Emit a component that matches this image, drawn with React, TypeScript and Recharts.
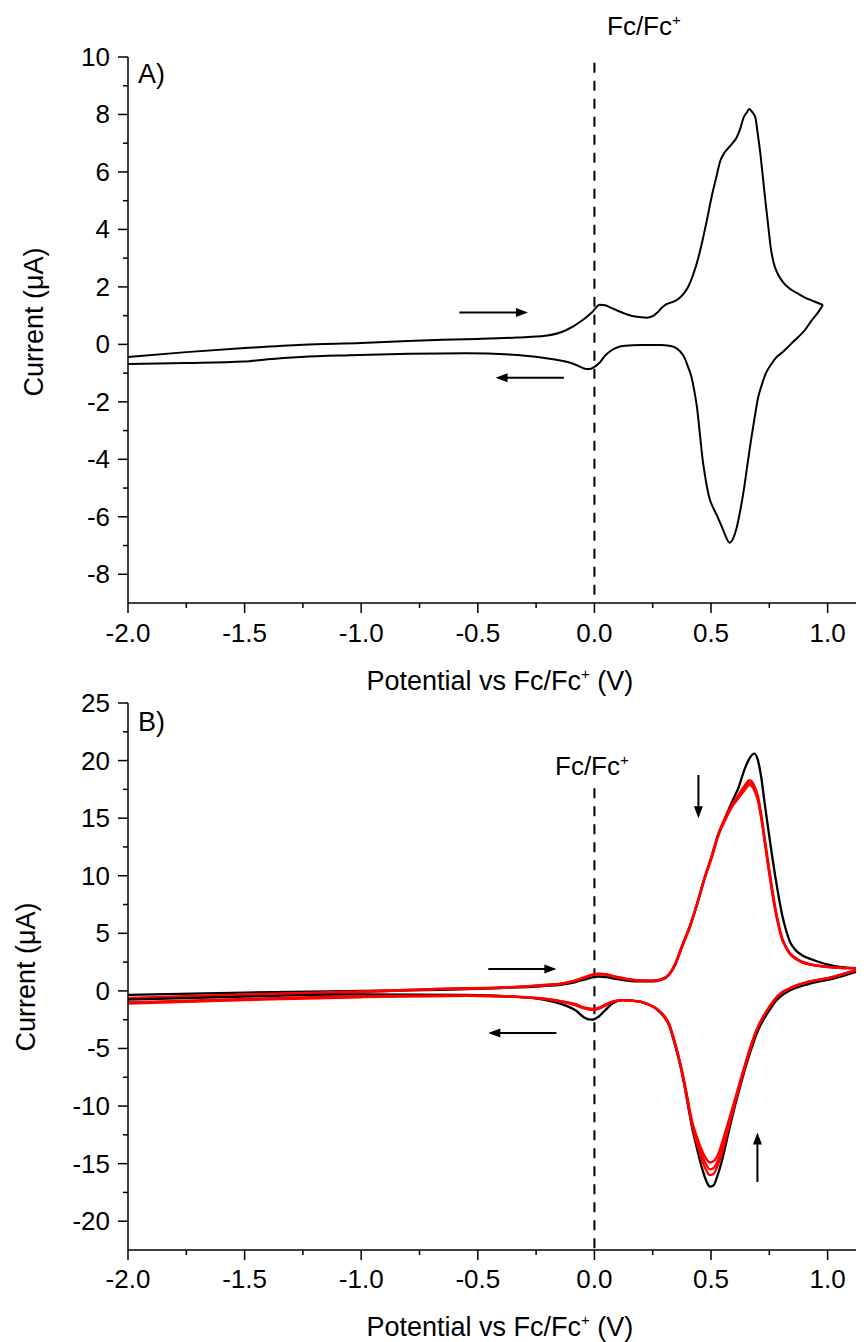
import React from 'react';
import { LineChart, Line, XAxis, YAxis, ReferenceLine } from 'recharts';

const FONT = '"Liberation Sans", Arial, Helvetica, sans-serif';

// ---- Panel A: single CV scan ----
const aFwdV = [-2.0, -1.75, -1.5, -1.25, -1.0, -0.8, -0.55, -0.33, -0.21, -0.12, -0.05, -0.01, 0.023, 0.046, 0.07, 0.1, 0.13, 0.162, 0.195, 0.224, 0.25, 0.27, 0.29, 0.309, 0.33, 0.347, 0.366, 0.386, 0.405, 0.424, 0.445, 0.463, 0.483, 0.502, 0.522, 0.54, 0.556, 0.571, 0.59, 0.61, 0.625, 0.64, 0.652, 0.664, 0.677, 0.69, 0.7, 0.71, 0.722, 0.733, 0.745, 0.756, 0.77, 0.787, 0.81, 0.841, 0.87, 0.903, 0.94, 0.98];
const aFwdI = [-0.44, -0.27, -0.13, -0.01, 0.05, 0.12, 0.18, 0.24, 0.3, 0.5, 0.85, 1.12, 1.38, 1.36, 1.28, 1.17, 1.07, 0.99, 0.95, 0.93, 0.98, 1.11, 1.28, 1.4, 1.46, 1.51, 1.62, 1.8, 2.05, 2.44, 3.0, 3.6, 4.35, 5.11, 5.8, 6.39, 6.65, 6.8, 6.98, 7.2, 7.5, 7.9, 8.05, 8.19, 8.08, 7.9, 7.35, 6.74, 5.85, 5.0, 4.15, 3.37, 2.8, 2.44, 2.15, 1.92, 1.78, 1.63, 1.5, 1.37];
const aRevV = [0.98, 0.96, 0.93, 0.903, 0.872, 0.841, 0.81, 0.779, 0.756, 0.733, 0.718, 0.702, 0.687, 0.671, 0.655, 0.64, 0.625, 0.61, 0.595, 0.579, 0.564, 0.548, 0.528, 0.509, 0.497, 0.486, 0.475, 0.463, 0.452, 0.44, 0.428, 0.417, 0.4, 0.386, 0.365, 0.347, 0.32, 0.285, 0.2, 0.131, 0.1, 0.069, 0.045, 0.023, 0.0, -0.023, -0.045, -0.069, -0.1, -0.177, -0.33, -0.55, -0.795, -1.05, -1.258, -1.4, -1.5, -1.75, -2.0];
const aRevI = [1.37, 1.12, 0.82, 0.5, 0.24, 0.0, -0.25, -0.46, -0.72, -1.04, -1.4, -1.85, -2.55, -3.36, -4.25, -5.1, -5.8, -6.38, -6.75, -6.9, -6.7, -6.38, -6.0, -5.68, -5.45, -5.1, -4.6, -3.94, -3.1, -2.2, -1.6, -1.16, -0.75, -0.46, -0.22, -0.11, -0.05, -0.02, -0.02, -0.05, -0.1, -0.23, -0.4, -0.63, -0.78, -0.86, -0.84, -0.75, -0.65, -0.52, -0.37, -0.31, -0.33, -0.38, -0.44, -0.52, -0.6, -0.65, -0.68];

// ---- Panel B: repeated scans (black = first, red = following) ----
const bFwdV = [-2.0, -1.5, -1.0, -0.65, -0.4, -0.23, -0.14, -0.086, -0.04, -0.01, 0.02, 0.05, 0.09, 0.14, 0.2, 0.25, 0.285, 0.32, 0.347, 0.373, 0.41, 0.446, 0.47, 0.502, 0.532, 0.558, 0.594, 0.617, 0.643, 0.665, 0.686, 0.7, 0.715, 0.73, 0.745, 0.76, 0.775, 0.79, 0.805, 0.82, 0.84, 0.86, 0.89, 0.93, 0.98, 1.03, 1.09, 1.156];
const bBlackFwd = [-0.35, -0.15, 0.0, 0.1, 0.25, 0.4, 0.55, 0.75, 1.0, 1.18, 1.25, 1.2, 1.05, 0.9, 0.82, 0.82, 0.95, 1.4, 2.3, 3.7, 5.6, 7.9, 9.6, 11.6, 13.6, 14.9, 16.6, 17.6, 19.2, 20.2, 20.6, 20.1, 18.6, 16.3, 14.1, 12.0, 10.0, 8.2, 6.6, 5.4, 4.2, 3.6, 3.1, 2.75, 2.4, 2.15, 2.0, 1.9];
const bRed1Fwd = [-0.6, -0.3, -0.05, 0.2, 0.3, 0.5, 0.65, 0.9, 1.2, 1.42, 1.5, 1.45, 1.25, 1.05, 0.92, 0.9, 1.0, 1.45, 2.4, 3.8, 5.7, 8.0, 9.7, 11.7, 13.7, 14.9, 16.3, 17.0, 17.8, 18.3, 17.8, 17.0, 15.4, 13.3, 11.2, 9.2, 7.3, 5.8, 4.6, 3.9, 3.25, 2.9, 2.55, 2.3, 2.15, 2.05, 2.0, 2.0];
const bRed2Fwd = [-0.65, -0.35, -0.08, 0.18, 0.28, 0.48, 0.63, 0.88, 1.18, 1.4, 1.48, 1.43, 1.23, 1.03, 0.9, 0.88, 0.98, 1.42, 2.35, 3.75, 5.65, 7.95, 9.65, 11.6, 13.6, 14.8, 16.2, 16.9, 17.6, 18.1, 17.6, 16.8, 15.2, 13.1, 11.0, 9.0, 7.2, 5.7, 4.5, 3.85, 3.2, 2.85, 2.5, 2.28, 2.12, 2.03, 1.98, 1.98];
const bRed3Fwd = [-0.7, -0.4, -0.1, 0.15, 0.26, 0.46, 0.6, 0.85, 1.15, 1.37, 1.45, 1.4, 1.2, 1.0, 0.88, 0.86, 0.96, 1.4, 2.3, 3.7, 5.6, 7.9, 9.6, 11.5, 13.5, 14.7, 16.1, 16.7, 17.4, 17.9, 17.4, 16.6, 15.0, 12.9, 10.8, 8.8, 7.0, 5.6, 4.45, 3.8, 3.15, 2.8, 2.48, 2.25, 2.1, 2.02, 1.97, 1.97];

const bRevV = [1.156, 1.09, 1.02, 0.96, 0.91, 0.87, 0.83, 0.8, 0.775, 0.75, 0.725, 0.7, 0.675, 0.65, 0.625, 0.6, 0.575, 0.55, 0.53, 0.51, 0.495, 0.48, 0.46, 0.44, 0.42, 0.4, 0.38, 0.36, 0.34, 0.32, 0.3, 0.27, 0.24, 0.2, 0.16, 0.12, 0.08, 0.05, 0.02, -0.01, -0.04, -0.08, -0.14, -0.22, -0.35, -0.55, -1.0, -1.5, -2.0];
const bBlackRev = [1.9, 1.45, 1.05, 0.8, 0.55, 0.3, -0.05, -0.45, -0.95, -1.7, -2.5, -3.5, -4.9, -6.5, -8.3, -10.2, -12.3, -14.5, -15.9, -16.9, -17.0, -16.5, -15.3, -13.7, -12.0, -9.8, -7.6, -5.8, -4.3, -3.0, -2.3, -1.65, -1.25, -0.95, -0.85, -0.8, -1.05, -1.6, -2.2, -2.5, -2.35, -1.7, -1.15, -0.75, -0.5, -0.35, -0.3, -0.5, -0.75];
const bRed1Rev = [1.95, 1.6, 1.2, 0.95, 0.75, 0.5, 0.15, -0.2, -0.7, -1.4, -2.2, -3.2, -4.6, -6.3, -8.1, -10.0, -11.9, -13.9, -15.1, -15.9, -16.0, -15.6, -14.6, -13.3, -11.8, -9.6, -7.5, -5.7, -4.2, -2.9, -2.2, -1.6, -1.25, -0.95, -0.85, -0.8, -0.95, -1.25, -1.55, -1.65, -1.55, -1.25, -0.95, -0.7, -0.5, -0.4, -0.45, -0.7, -1.0];
const bRed2Rev = [1.97, 1.6, 1.2, 0.95, 0.75, 0.5, 0.15, -0.2, -0.7, -1.4, -2.2, -3.2, -4.55, -6.2, -8.0, -9.8, -11.6, -13.5, -14.7, -15.4, -15.5, -15.1, -14.2, -13.0, -11.6, -9.5, -7.4, -5.65, -4.15, -2.9, -2.2, -1.6, -1.25, -0.95, -0.85, -0.8, -0.93, -1.2, -1.5, -1.6, -1.5, -1.2, -0.92, -0.68, -0.5, -0.42, -0.5, -0.75, -1.05];
const bRed3Rev = [1.97, 1.6, 1.2, 0.95, 0.75, 0.5, 0.15, -0.2, -0.7, -1.4, -2.2, -3.15, -4.5, -6.1, -7.8, -9.6, -11.3, -13.0, -14.2, -14.8, -14.9, -14.6, -13.8, -12.7, -11.4, -9.4, -7.3, -5.6, -4.1, -2.85, -2.2, -1.6, -1.25, -0.95, -0.85, -0.8, -0.9, -1.15, -1.45, -1.55, -1.45, -1.15, -0.9, -0.66, -0.5, -0.44, -0.55, -0.8, -1.1];

// ticks
const xTicks = [-2, -1.75, -1.5, -1.25, -1, -0.75, -0.5, -0.25, 0, 0.25, 0.5, 0.75, 1];
const yTicksA = [10, 9, 8, 7, 6, 5, 4, 3, 2, 1, 0, -1, -2, -3, -4, -5, -6, -7, -8];
const yTicksB = [25, 22.5, 20, 17.5, 15, 12.5, 10, 7.5, 5, 2.5, 0, -2.5, -5, -7.5, -10, -12.5, -15, -17.5, -20];

const toPts = (vs: number[], is: number[]) =>
  vs.map((v, k) => ({ v, i: is[k] })).sort((a, b) => a.v - b.v);

const X_DOMAIN: [number, number] = [-2, 1.156];
const PLOT_LEFT = 120;
const A_AXIS_Y = 595;
const B_AXIS_Y = 592;
const TICK_FS = 26;
const TITLE_FS = 27;

const makeXTick = (axisY: number, labelDy: number) => (props: any) => {
  const { x, payload } = props;
  const v = payload.value;
  const major = Math.abs(v * 2 - Math.round(v * 2)) < 1e-6;
  return (
    <g>
      <line x1={x} x2={x} y1={axisY} y2={axisY + (major ? 10 : 5)} stroke="#000" strokeWidth={1.5} />
      {major && (
        <text x={x} y={axisY + labelDy} textAnchor="middle" fontSize={TICK_FS} fontFamily={FONT} fill="#000">
          {v.toFixed(1)}
        </text>
      )}
    </g>
  );
};

const makeYTick = (isMajor: (v: number) => boolean) => (props: any) => {
  const { y, payload } = props;
  const v = payload.value;
  const major = isMajor(v);
  return (
    <g>
      <line x1={PLOT_LEFT - (major ? 10 : 5)} x2={PLOT_LEFT} y1={y} y2={y} stroke="#000" strokeWidth={1.5} />
      {major && (
        <text x={PLOT_LEFT - 18} y={y + 9} textAnchor="end" fontSize={TICK_FS} fontFamily={FONT} fill="#000">
          {String(v)}
        </text>
      )}
    </g>
  );
};

const arrowShape = (p: any) => {
  const { x1, y1, x2, y2 } = p;
  const dx = x2 - x1;
  const dy = y2 - y1;
  const len = Math.hypot(dx, dy) || 1;
  const ux = dx / len;
  const uy = dy / len;
  const hl = 12;
  const hw = 4.5;
  const bx = x2 - ux * hl;
  const by = y2 - uy * hl;
  return (
    <g>
      <line x1={x1} y1={y1} x2={bx + ux * 2} y2={by + uy * 2} stroke="#000" strokeWidth={2} />
      <polygon
        points={`${x2},${y2} ${bx - uy * hw},${by + ux * hw} ${bx + uy * hw},${by - ux * hw}`}
        fill="#000"
      />
    </g>
  );
};

const lineProps = {
  dataKey: 'i',
  type: 'monotone' as const,
  dot: false,
  activeDot: false,
  isAnimationActive: false,
};

const axisLine = { stroke: '#000', strokeWidth: 1.5 };

export default function App() {
  const aFwd = toPts(aFwdV, aFwdI);
  const aRev = toPts(aRevV, aRevI);
  const bScans = [
    { color: '#000000', fwd: toPts(bFwdV, bBlackFwd), rev: toPts(bRevV, bBlackRev) },
    { color: '#ff0000', fwd: toPts(bFwdV, bRed1Fwd), rev: toPts(bRevV, bRed1Rev) },
    { color: '#ff0000', fwd: toPts(bFwdV, bRed2Fwd), rev: toPts(bRevV, bRed2Rev) },
    { color: '#ff0000', fwd: toPts(bFwdV, bRed3Fwd), rev: toPts(bRevV, bRed3Rev) },
  ];

  return (
    <div style={{ position: 'relative', width: 856, height: 1334, background: '#fff', fontFamily: FONT }}>
      <div style={{ position: 'absolute', left: 0, top: 0 }}>
        <LineChart width={856} height={650} margin={{ top: 49, right: 0, bottom: 0, left: 0 }}>
          <XAxis
            dataKey="v"
            type="number"
            domain={X_DOMAIN}
            allowDataOverflow
            ticks={xTicks}
            interval={0}
            height={55}
            tickLine={false}
            tickSize={0}
            axisLine={axisLine}
            tick={makeXTick(A_AXIS_Y, 39)}
          />
          <YAxis
            type="number"
            domain={[-9, 10]}
            allowDataOverflow
            ticks={yTicksA}
            interval={0}
            width={120}
            tickLine={false}
            tickSize={0}
            axisLine={axisLine}
            tick={makeYTick((v) => v % 2 === 0)}
          />
          <ReferenceLine segment={[{ x: 0, y: 9.8 }, { x: 0, y: -9 }]} stroke="#000" strokeWidth={2} strokeDasharray="10 8" />
          <ReferenceLine segment={[{ x: -0.579, y: 1.11 }, { x: -0.285, y: 1.11 }]} shape={arrowShape} />
          <ReferenceLine segment={[{ x: -0.131, y: -1.16 }, { x: -0.424, y: -1.16 }]} shape={arrowShape} />
          <Line data={aFwd} stroke="#000" strokeWidth={2} {...lineProps} />
          <Line data={aRev} stroke="#000" strokeWidth={2} {...lineProps} />
        </LineChart>
      </div>

      <div style={{ position: 'absolute', left: 0, top: 650 }}>
        <LineChart width={856} height={684} margin={{ top: 45, right: 0, bottom: 0, left: 0 }}>
          <XAxis
            dataKey="v"
            type="number"
            domain={X_DOMAIN}
            allowDataOverflow
            ticks={xTicks}
            interval={0}
            height={92}
            tickLine={false}
            tickSize={0}
            axisLine={axisLine}
            tick={makeXTick(B_AXIS_Y, 38)}
          />
          <YAxis
            type="number"
            domain={[-22.5, 25]}
            allowDataOverflow
            ticks={yTicksB}
            interval={0}
            width={120}
            tickLine={false}
            tickSize={0}
            axisLine={axisLine}
            tick={makeYTick((v) => v % 5 === 0)}
          />
          <ReferenceLine segment={[{ x: 0, y: 17.6 }, { x: 0, y: -22.5 }]} stroke="#000" strokeWidth={2} strokeDasharray="10 8" />
          <ReferenceLine segment={[{ x: -0.455, y: 1.9 }, { x: -0.163, y: 1.9 }]} shape={arrowShape} />
          <ReferenceLine segment={[{ x: -0.163, y: -3.65 }, { x: -0.455, y: -3.65 }]} shape={arrowShape} />
          <ReferenceLine segment={[{ x: 0.446, y: 18.75 }, { x: 0.446, y: 15.0 }]} shape={arrowShape} />
          <ReferenceLine segment={[{ x: 0.699, y: -16.6 }, { x: 0.699, y: -12.3 }]} shape={arrowShape} />
          {bScans.map((s, k) => (
            <Line key={`f${k}`} data={s.fwd} stroke={s.color} strokeWidth={2.3} {...lineProps} />
          ))}
          {bScans.map((s, k) => (
            <Line key={`r${k}`} data={s.rev} stroke={s.color} strokeWidth={2.3} {...lineProps} />
          ))}
        </LineChart>
      </div>

      <svg
        width={856}
        height={1334}
        style={{ position: 'absolute', left: 0, top: 0, pointerEvents: 'none' }}
        fontFamily={FONT}
        fill="#000"
      >
        <text x={130} y={75} fontSize={TITLE_FS}>A)</text>
        <text x={599} y={27} fontSize={26}>
          Fc/Fc<tspan fontSize={15} dy={-10}>+</tspan>
        </text>
        <text x={35} y={314} fontSize={TITLE_FS} textAnchor="middle" transform="rotate(-90 35 314)">Current (μA)</text>
        <text x={358.5} y={682} fontSize={TITLE_FS}>
          Potential vs Fc/Fc<tspan fontSize={15} dy={-11}>+</tspan><tspan dy={11}> (V)</tspan>
        </text>

        <text x={130} y={723} fontSize={TITLE_FS}>B)</text>
        <text x={547} y={767} fontSize={26}>
          Fc/Fc<tspan fontSize={15} dy={-10}>+</tspan>
        </text>
        <text x={27} y={969} fontSize={TITLE_FS} textAnchor="middle" transform="rotate(-90 27 969)">Current (μA)</text>
        <text x={358.5} y={1328} fontSize={TITLE_FS}>
          Potential vs Fc/Fc<tspan fontSize={15} dy={-11}>+</tspan><tspan dy={11}> (V)</tspan>
        </text>
      </svg>
    </div>
  );
}
